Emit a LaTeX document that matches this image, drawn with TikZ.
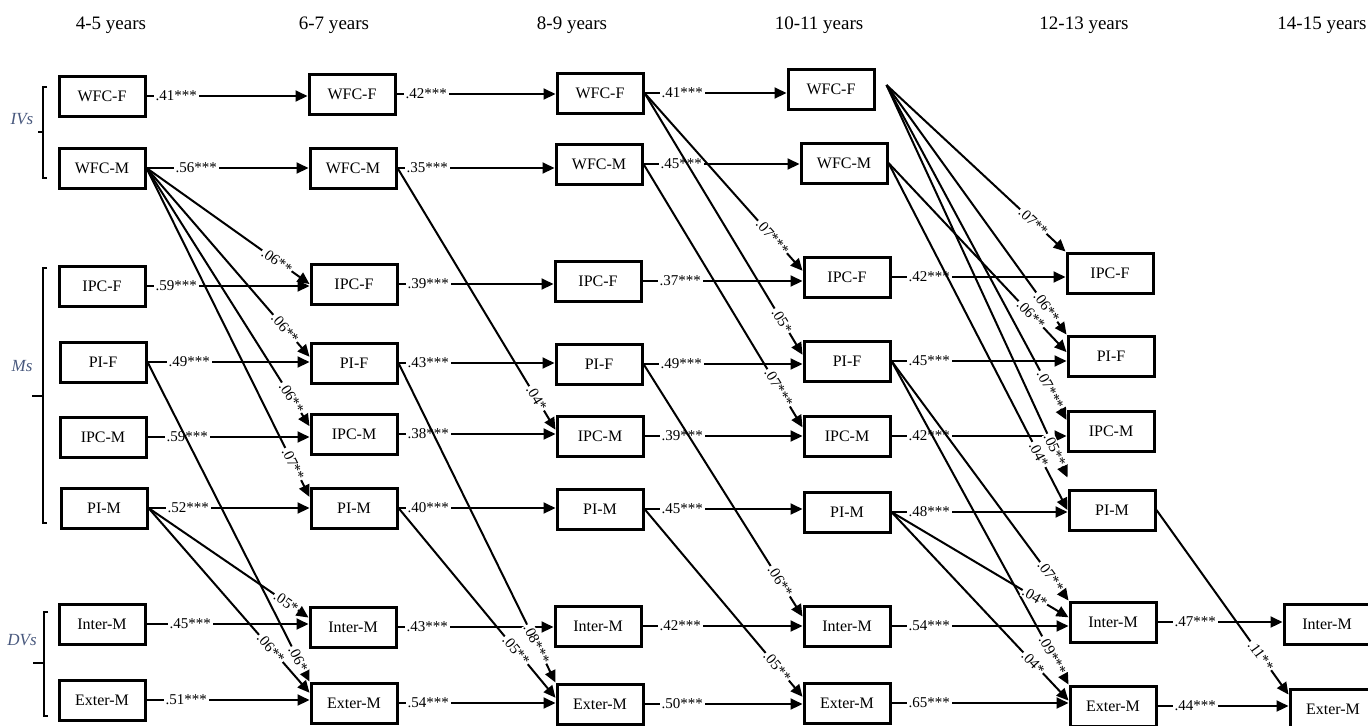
\documentclass[tikz,border=0pt]{standalone}
\usepackage{fontspec}
\setmainfont{Liberation Serif}
\usepackage{xcolor}
\usepackage{tikz}
\usetikzlibrary{arrows.meta}
\definecolor{grpblue}{RGB}{72,88,125}

\begin{document}
\begin{tikzpicture}[x=0.5pt,y=-0.5pt,
  meas/.style={draw,line width=1.5pt,minimum width=43pt,minimum height=20pt,inner sep=1pt,font=\fontsize{8}{9.6}\selectfont},
  age/.style={font=\fontsize{9.5}{11}\selectfont},
  grp/.style={font=\fontsize{8.5}{10}\selectfont\itshape,text=grpblue},
  arr/.style={-{Triangle[length=6pt,width=5.5pt]},line width=1pt},
  coef/.style={font=\fontsize{7.5}{9}\selectfont,fill=white,inner sep=1pt,pos=0,anchor=west,xshift=3pt},
  coefd/.style={font=\fontsize{7.5}{9}\selectfont,fill=white,inner sep=0.5pt,sloped},
  brk/.style={line width=0.7pt}
]
\useasboundingbox (0,0) rectangle (1368,725);
% ages
\node[age] (t1) at (111,25) {4-5 years};
\node[age] (t2) at (334,25) {6-7 years};
\node[age] (t3) at (572,25) {8-9 years};
\node[age] (t4) at (819,25) {10-11 years};
\node[age] (t5) at (1084,25) {12-13 years};
\node[age] (t6) at (1322,25) {14-15 years};
% groups
\draw[brk] (47,87) -- (43,87) -- (43,178) -- (47,178);
\draw[brk] (43,132) -- (38,132);
\node[grp] (ivs) at (22,119) {IVs};
\draw[brk] (47,268) -- (43,268) -- (43,523) -- (47,523);
\draw[brk] (43,396) -- (32,396);
\node[grp] (ms) at (22,366) {Ms};
\draw[brk] (48,612) -- (44,612) -- (44,716) -- (48,716);
\draw[brk] (44,663) -- (33,663);
\node[grp] (dvs) at (22,640) {DVs};
% 4-5 years
\node[meas] (wfcf1) at (102,96) {WFC-F};
\node[meas] (wfcm1) at (102,168) {WFC-M};
\node[meas] (ipcf1) at (102,286) {IPC-F};
\node[meas] (pif1) at (103,362) {PI-F};
\node[meas] (ipcm1) at (103,437) {IPC-M};
\node[meas] (pim1) at (104,508) {PI-M};
\node[meas] (inter1) at (102,624) {Inter-M};
\node[meas] (exter1) at (102,700) {Exter-M};
% 6-7 years
\node[meas] (wfcf2) at (352,94) {WFC-F};
\node[meas] (wfcm2) at (353,168) {WFC-M};
\node[meas] (ipcf2) at (354,284) {IPC-F};
\node[meas] (pif2) at (354,363) {PI-F};
\node[meas] (ipcm2) at (354,434) {IPC-M};
\node[meas] (pim2) at (354,508) {PI-M};
\node[meas] (inter2) at (353,627) {Inter-M};
\node[meas] (exter2) at (354,703) {Exter-M};
% 8-9 years
\node[meas] (wfcf3) at (600,93) {WFC-F};
\node[meas] (wfcm3) at (599,164) {WFC-M};
\node[meas] (ipcf3) at (598,281) {IPC-F};
\node[meas] (pif3) at (599,364) {PI-F};
\node[meas] (ipcm3) at (600,436) {IPC-M};
\node[meas] (pim3) at (600,509) {PI-M};
\node[meas] (inter3) at (598,626) {Inter-M};
\node[meas] (exter3) at (600,704) {Exter-M};
% 10-11 years
\node[meas] (wfcf4) at (831,89) {WFC-F};
\node[meas] (wfcm4) at (844,163) {WFC-M};
\node[meas] (ipcf4) at (847,277) {IPC-F};
\node[meas] (pif4) at (847,361) {PI-F};
\node[meas] (ipcm4) at (847,436) {IPC-M};
\node[meas] (pim4) at (847,512) {PI-M};
\node[meas] (inter4) at (847,626) {Inter-M};
\node[meas] (exter4) at (847,703) {Exter-M};
% 12-13 years
\node[meas] (ipcf5) at (1110,273) {IPC-F};
\node[meas] (pif5) at (1111,356) {PI-F};
\node[meas] (ipcm5) at (1111,431) {IPC-M};
\node[meas] (pim5) at (1112,510) {PI-M};
\node[meas] (inter5) at (1113,622) {Inter-M};
\node[meas] (exter5) at (1113,706) {Exter-M};
% 14-15 years
\node[meas] (inter6) at (1327,624) {Inter-M};
\node[meas] (exter6) at (1333,709) {Exter-M};
% stability paths
\draw[arr] (wfcf1) -- node[coef]{.41***} (wfcf1 -| wfcf2.west);
\draw[arr] (wfcm1) -- node[coef,xshift=10pt]{.56***} (wfcm1 -| wfcm2.west);
\draw[arr] (ipcf1) -- node[coef]{.59***} (ipcf1 -| ipcf2.west);
\draw[arr] (pif1) -- node[coef,xshift=6pt]{.49***} (pif1 -| pif2.west);
\draw[arr] (ipcm1) -- node[coef,xshift=5pt]{.59***} (ipcm1 -| ipcm2.west);
\draw[arr] (pim1) -- node[coef,xshift=5pt]{.52***} (pim1 -| pim2.west);
\draw[arr] (inter1) -- node[coef,xshift=7pt]{.45***} (inter1 -| inter2.west);
\draw[arr] (exter1) -- node[coef,xshift=5pt]{.51***} (exter1 -| exter2.west);
\draw[arr] (wfcf2) -- node[coef]{.42***} (wfcf2 -| wfcf3.west);
\draw[arr] (wfcm2) -- node[coef]{.35***} (wfcm2 -| wfcm3.west);
\draw[arr] (ipcf2) -- node[coef]{.39***} (ipcf2 -| ipcf3.west);
\draw[arr] (pif2) -- node[coef]{.43***} (pif2 -| pif3.west);
\draw[arr] (ipcm2) -- node[coef]{.38***} (ipcm2 -| ipcm3.west);
\draw[arr] (pim2) -- node[coef]{.40***} (pim2 -| pim3.west);
\draw[arr] (inter2) -- node[coef]{.43***} (inter2 -| inter3.west);
\draw[arr] (exter2) -- node[coef]{.54***} (exter2 -| exter3.west);
\draw[arr] (wfcf3) -- node[coef,xshift=4pt]{.41***} (wfcf3 -| wfcf4.west);
\draw[arr] (wfcm3) -- node[coef,xshift=4pt]{.45***} (wfcm3 -| wfcm4.west);
\draw[arr] (ipcf3) -- node[coef,xshift=4pt]{.37***} (ipcf3 -| ipcf4.west);
\draw[arr] (pif3) -- node[coef,xshift=4pt]{.49***} (pif3 -| pif4.west);
\draw[arr] (ipcm3) -- node[coef,xshift=4pt]{.39***} (ipcm3 -| ipcm4.west);
\draw[arr] (pim3) -- node[coef,xshift=4pt]{.45***} (pim3 -| pim4.west);
\draw[arr] (inter3) -- node[coef,xshift=4pt]{.42***} (inter3 -| inter4.west);
\draw[arr] (exter3) -- node[coef,xshift=4pt]{.50***} (exter3 -| exter4.west);
\draw[arr] (ipcf4) -- node[coef,xshift=4pt]{.42***} (ipcf4 -| ipcf5.west);
\draw[arr] (pif4) -- node[coef,xshift=4pt]{.45***} (pif4 -| pif5.west);
\draw[arr] (ipcm4) -- node[coef,xshift=4pt]{.42***} (ipcm4 -| ipcm5.west);
\draw[arr] (pim4) -- node[coef,xshift=4pt]{.48***} (pim4 -| pim5.west);
\draw[arr] (inter4) -- node[coef,xshift=4pt]{.54***} (inter4 -| inter5.west);
\draw[arr] (exter4) -- node[coef,xshift=4pt]{.65***} (exter4 -| exter5.west);
\draw[arr] (inter5) -- node[coef,xshift=4pt]{.47***} (inter5 -| inter6.west);
\draw[arr] (exter5) -- node[coef,xshift=4pt]{.44***} (exter5 -| exter6.west);
% cross-lagged paths
\draw[arr] (wfcm1.east) -- node[coefd,pos=.8]{.06**} (ipcf2.west);
\draw[arr] (wfcm1.east) -- node[coefd,pos=.85]{.06**} (pif2.172);
\draw[arr] (wfcm1.east) -- node[coefd,pos=.89]{.06**} (ipcm2.170);
\draw[arr] (wfcm1.east) -- node[coefd,pos=.9]{.07**} (pim2.166);
\draw[arr] (pif1.east) -- node[coefd,pos=.93]{.06*} (exter2.north west);
\draw[arr] (pim1.east) -- node[coefd,pos=.86]{.05*} (inter2.168);
\draw[arr] (pim1.east) -- node[coefd,pos=.76]{.06**} (exter2.167);
\draw[arr] (wfcm2.east) -- node[coefd,pos=.88]{.04*} (ipcm3.172);
\draw[arr] (pif2.east) -- node[coefd,pos=.88]{.08***} (exter3.north west);
\draw[arr] (pim2.east) -- node[coefd,pos=.75]{.05**} (exter3.172);
\draw[arr] (wfcf3.east) -- node[coefd,pos=.81]{.07***} (ipcf4.172);
\draw[arr] (wfcf3.east) -- node[coefd,pos=.87]{.05*} (pif4.172);
\draw[arr] (wfcm3.east) -- node[coefd,pos=.85]{.07***} (ipcm4.169);
\draw[arr] (pif3.east) -- node[coefd,pos=.86]{.06**} (inter4.168);
\draw[arr] (pim3.east) -- node[coefd,pos=.84]{.05**} (exter4.172);
\draw[arr] ([xshift=5.5pt,yshift=2pt]wfcf4.east) -- node[coefd,pos=.82]{.07**} (ipcf5.north west);
\draw[arr] ([xshift=5.5pt,yshift=2pt]wfcf4.east) -- node[coefd,pos=.89]{.06**} (pif5.north west);
\draw[arr] (wfcm4.east) -- node[coefd,pos=.8]{.06**} (pif5.175);
\draw[arr] ([xshift=5.5pt,yshift=2pt]wfcf4.east) -- node[coefd,pos=.91]{.07***} (ipcm5.166);
\draw[arr] ([xshift=5.5pt,yshift=2pt]wfcf4.east) -- node[coefd,pos=.93]{.05**} ([yshift=5.5pt]pim5.north west);
\draw[arr] (wfcm4.east) -- node[coefd,pos=.84]{.04*} (pim5.west);
\draw[arr] (pif4.east) -- node[coefd,pos=.9]{.07**} (inter5.north west);
\draw[arr] (pif4.east) -- node[coefd,pos=.91]{.09***} (exter5.north west);
\draw[arr] (pim4.east) -- node[coefd,pos=.81]{.04*} (inter5.174);
\draw[arr] (pim4.east) -- node[coefd,pos=.8]{.04*} (exter5.173);
\draw[arr] (pim5.east) -- node[coefd,pos=.79]{.11**} (exter6.162);
\end{tikzpicture}
\end{document}
